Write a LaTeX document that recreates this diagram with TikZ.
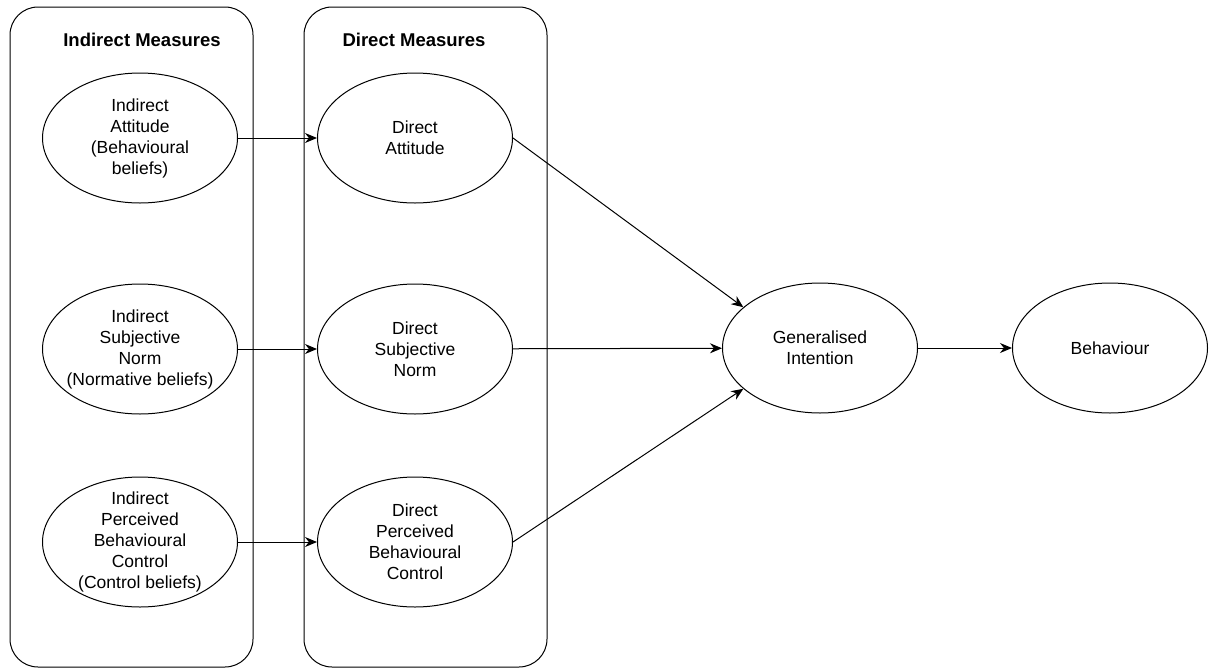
\documentclass[tikz,border=0pt]{standalone}
\usepackage{fontspec}
\setmainfont{Liberation Sans}
\usepackage{tikz}
\usetikzlibrary{arrows.meta}
\usetikzlibrary{shapes}

\tikzset{
  group/.style={draw,rounded corners=28pt,minimum width=243pt,minimum height=660pt,line width=1pt},
  measure/.style={draw,ellipse,minimum width=195pt,minimum height=130pt,inner xsep=-25pt,inner ysep=-15pt,
    align=center,line width=1pt,font=\fontsize{17.5}{21}\selectfont},
  title/.style={font=\fontsize{18.5}{22}\selectfont\bfseries},
  >={Stealth[length=12pt,width=10pt]}
}

\begin{document}
\begin{tikzpicture}[x=1pt,y=-1pt]
  \useasboundingbox (0,0) rectangle (1216,670);

  \node[group] at (131.5,337) (ibox){};
  \node[group] at (425.5,337) (dbox){};
  \node[title] at (142,40) (ititle){Indirect Measures};
  \node[title] at (414,40) (dtitle){Direct Measures};

  \node[measure] at (140,138) (ia){Indirect\\Attitude\\(Behavioural\\beliefs)};
  \node[measure] at (140,349) (isn){Indirect\\Subjective\\Norm\\(Normative beliefs)};
  \node[measure] at (140,542) (ipbc){Indirect\\Perceived\\Behavioural\\Control\\(Control beliefs)};

  \node[measure] at (415,138) (da){Direct\\Attitude};
  \node[measure] at (415,349) (dsn){Direct\\Subjective\\Norm};
  \node[measure] at (415,542) (dpbc){Direct\\Perceived\\Behavioural\\Control};

  \node[measure] at (820,348) (gi){Generalised\\Intention};
  \node[measure] at (1110,348) (beh){Behaviour};

  \draw[->,line width=1pt] (ia) -- (da);
  \draw[->,line width=1pt] (isn) -- (dsn);
  \draw[->,line width=1pt] (ipbc) -- (dpbc);
  \draw[->,line width=1pt] (da.east) -- (gi.152);
  \draw[->,line width=1pt] (dsn) -- (gi);
  \draw[->,line width=1pt] (dpbc.east) -- (gi.208);
  \draw[->,line width=1pt] (gi) -- (beh);
\end{tikzpicture}
\end{document}
